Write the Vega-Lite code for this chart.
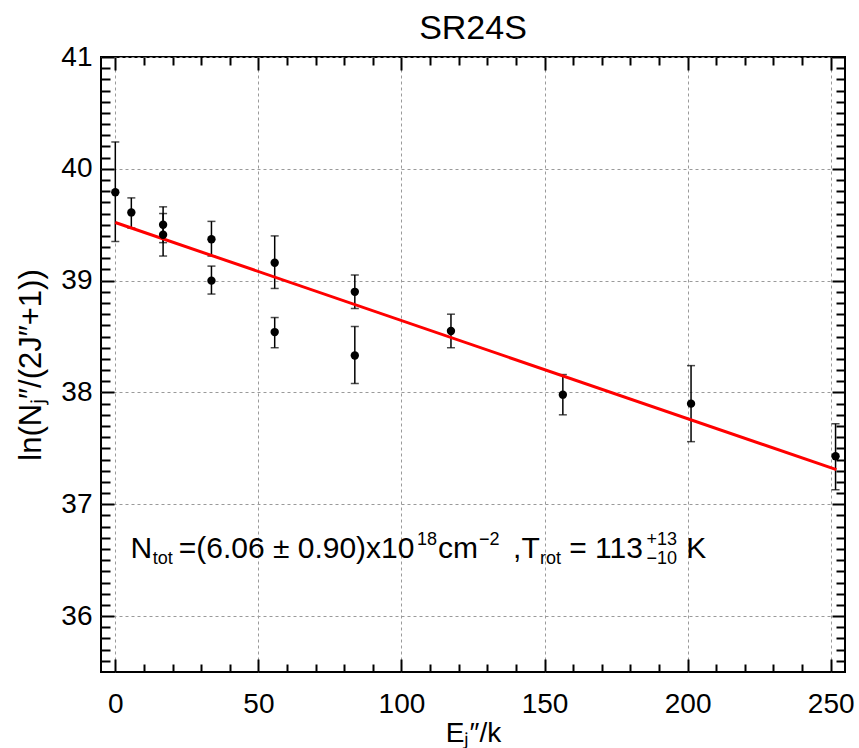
{
  "$schema": "https://vega.github.io/schema/vega-lite/v6.json",
  "width": 744,
  "height": 615,
  "autosize": {"type": "none"},
  "padding": {"left": 101, "top": 57, "right": 14, "bottom": 76},
  "background": "white",
  "title": {"text": "SR24S", "fontSize": 34, "font": "Liberation Sans", "fontWeight": "normal", "color": "black", "anchor": "middle", "baseline": "alphabetic", "offset": -30, "frame": "group"},
  "config": {
    "view": {"stroke": "black", "strokeWidth": 2},
    "axis": {"labelFont": "Liberation Sans", "titleFont": "Liberation Sans", "labelColor": "black", "titleColor": "black", "titleFontWeight": "normal", "tickColor": "black", "tickWidth": 2, "domain": false}
  },
  "datasets": {
    "pts": [
      {"E": 0, "v": 39.79, "lo": 39.35, "hi": 40.24},
      {"E": 5.6, "v": 39.61, "lo": 39.47, "hi": 39.74},
      {"E": 16.7, "v": 39.50, "lo": 39.34, "hi": 39.66},
      {"E": 16.7, "v": 39.41, "lo": 39.22, "hi": 39.60},
      {"E": 33.6, "v": 39.37, "lo": 39.22, "hi": 39.53},
      {"E": 33.6, "v": 39.00, "lo": 38.88, "hi": 39.13},
      {"E": 55.7, "v": 39.16, "lo": 38.93, "hi": 39.40},
      {"E": 55.7, "v": 38.54, "lo": 38.40, "hi": 38.67},
      {"E": 83.7, "v": 38.90, "lo": 38.75, "hi": 39.05},
      {"E": 83.7, "v": 38.33, "lo": 38.08, "hi": 38.59},
      {"E": 117.3, "v": 38.55, "lo": 38.40, "hi": 38.70},
      {"E": 156.4, "v": 37.98, "lo": 37.80, "hi": 38.16},
      {"E": 201.2, "v": 37.90, "lo": 37.56, "hi": 38.24},
      {"E": 251.7, "v": 37.43, "lo": 37.13, "hi": 37.72}
    ],
    "fit": [{"E": 0, "v": 39.52}, {"E": 252, "v": 37.31}],
    "annMain": [
      {"x": 5.35, "y": 36.52, "t": "N"},
      {"x": 22.15, "y": 36.52, "t": "=(6.06 ± 0.90)x10"},
      {"x": 112.8, "y": 36.52, "t": "cm"},
      {"x": 139.0, "y": 36.52, "t": " ,T"},
      {"x": 158.6, "y": 36.52, "t": "= 113"},
      {"x": 199.5, "y": 36.52, "t": "K"}
    ],
    "annSub": [
      {"x": 13.05, "y": 36.52, "t": "tot"},
      {"x": 148.4, "y": 36.52, "t": "rot"},
      {"x": 185.6, "y": 36.52, "t": "−10"}
    ],
    "annSup": [
      {"x": 105.4, "y": 36.52, "t": "18"},
      {"x": 127.1, "y": 36.52, "t": "−2"},
      {"x": 185.6, "y": 36.52, "t": "+13"}
    ]
  },
  "resolve": {"axis": {"x": "independent", "y": "independent"}},
  "layer": [
    {
      "data": {"name": "pts"},
      "mark": {"type": "rule", "color": "black", "strokeWidth": 1.5},
      "encoding": {
        "x": {"field": "E", "type": "quantitative", "scale": {"domain": [-5, 255], "nice": false, "zero": false},
          "axis": {"orient": "bottom", "values": [0, 50, 100, 150, 200, 250], "ticks": false, "tickSize": 0, "labelFontSize": 28, "labelPadding": 18, "labelFlush": false, "grid": true, "gridDash": [3, 3], "gridColor": "#9a9a9a", "gridWidth": 1, "title": "Eⱼ″/k", "titleFontSize": 28, "titleY": 69, "titleBaseline": "alphabetic"}},
        "y": {"field": "lo", "type": "quantitative", "scale": {"domain": [35.5, 41], "nice": false, "zero": false},
          "axis": {"orient": "left", "values": [36, 37, 38, 39, 40, 41], "ticks": false, "tickSize": 0, "labelFontSize": 28, "labelPadding": 9, "labelFlush": false, "grid": true, "gridDash": [3, 3], "gridColor": "#9a9a9a", "gridWidth": 1, "title": "ln(Nⱼ″/(2J″+1))", "titleFontSize": 31, "titleX": -61, "titleBaseline": "alphabetic"}},
        "y2": {"field": "hi"}
      }
    },
    {
      "data": {"name": "pts"},
      "mark": {"type": "tick", "orient": "horizontal", "color": "black", "size": 8, "thickness": 1.5},
      "encoding": {
        "x": {"field": "E", "type": "quantitative",
          "axis": {"orient": "bottom", "values": [10, 20, 30, 40, 60, 70, 80, 90, 110, 120, 130, 140, 160, 170, 180, 190, 210, 220, 230, 240], "labels": false, "grid": false, "tickSize": -8, "title": null}},
        "y": {"field": "lo", "type": "quantitative",
          "axis": {"orient": "left", "values": [35.6, 35.7, 35.8, 35.9, 36.1, 36.2, 36.3, 36.4, 36.5, 36.6, 36.7, 36.8, 36.9, 37.1, 37.2, 37.3, 37.4, 37.5, 37.6, 37.7, 37.8, 37.9, 38.1, 38.2, 38.3, 38.4, 38.5, 38.6, 38.7, 38.8, 38.9, 39.1, 39.2, 39.3, 39.4, 39.5, 39.6, 39.7, 39.8, 39.9, 40.1, 40.2, 40.3, 40.4, 40.5, 40.6, 40.7, 40.8, 40.9], "labels": false, "grid": false, "tickSize": -9, "title": null}}
      }
    },
    {
      "data": {"name": "pts"},
      "mark": {"type": "tick", "orient": "horizontal", "color": "black", "size": 8, "thickness": 1.5},
      "encoding": {
        "x": {"field": "E", "type": "quantitative",
          "axis": {"orient": "top", "values": [0, 50, 100, 150, 200, 250], "labels": false, "grid": false, "tickSize": -13, "title": null}},
        "y": {"field": "hi", "type": "quantitative",
          "axis": {"orient": "right", "values": [36, 37, 38, 39, 40, 41], "labels": false, "grid": false, "tickSize": -13, "title": null}}
      }
    },
    {
      "data": {"name": "fit"},
      "mark": {"type": "line", "color": "#ff0000", "strokeWidth": 3},
      "encoding": {
        "x": {"field": "E", "type": "quantitative",
          "axis": {"orient": "top", "values": [10, 20, 30, 40, 60, 70, 80, 90, 110, 120, 130, 140, 160, 170, 180, 190, 210, 220, 230, 240], "labels": false, "grid": false, "tickSize": -8, "title": null}},
        "y": {"field": "v", "type": "quantitative",
          "axis": {"orient": "right", "values": [35.6, 35.7, 35.8, 35.9, 36.1, 36.2, 36.3, 36.4, 36.5, 36.6, 36.7, 36.8, 36.9, 37.1, 37.2, 37.3, 37.4, 37.5, 37.6, 37.7, 37.8, 37.9, 38.1, 38.2, 38.3, 38.4, 38.5, 38.6, 38.7, 38.8, 38.9, 39.1, 39.2, 39.3, 39.4, 39.5, 39.6, 39.7, 39.8, 39.9, 40.1, 40.2, 40.3, 40.4, 40.5, 40.6, 40.7, 40.8, 40.9], "labels": false, "grid": false, "tickSize": -9, "title": null}}
      }
    },
    {
      "data": {"name": "pts"},
      "mark": {"type": "circle", "color": "black", "opacity": 1, "size": 70},
      "encoding": {
        "x": {"field": "E", "type": "quantitative",
          "axis": {"orient": "bottom", "values": [0, 50, 100, 150, 200, 250], "labels": false, "grid": false, "tickSize": -13, "title": null}},
        "y": {"field": "v", "type": "quantitative",
          "axis": {"orient": "left", "values": [36, 37, 38, 39, 40, 41], "labels": false, "grid": false, "tickSize": -13, "title": null}}
      }
    },
    {
      "data": {"name": "annMain"},
      "mark": {"type": "text", "font": "Liberation Sans", "fontSize": 30, "color": "black", "align": "left", "baseline": "alphabetic"},
      "encoding": {
        "x": {"field": "x", "type": "quantitative", "axis": null},
        "y": {"field": "y", "type": "quantitative", "axis": null},
        "text": {"field": "t"}
      }
    },
    {
      "data": {"name": "annSub"},
      "mark": {"type": "text", "font": "Liberation Sans", "fontSize": 18, "color": "black", "align": "left", "baseline": "alphabetic", "dy": 6},
      "encoding": {
        "x": {"field": "x", "type": "quantitative", "axis": null},
        "y": {"field": "y", "type": "quantitative", "axis": null},
        "text": {"field": "t"}
      }
    },
    {
      "data": {"name": "annSup"},
      "mark": {"type": "text", "font": "Liberation Sans", "fontSize": 18, "color": "black", "align": "left", "baseline": "alphabetic", "dy": -13},
      "encoding": {
        "x": {"field": "x", "type": "quantitative", "axis": null},
        "y": {"field": "y", "type": "quantitative", "axis": null},
        "text": {"field": "t"}
      }
    }
  ]
}
